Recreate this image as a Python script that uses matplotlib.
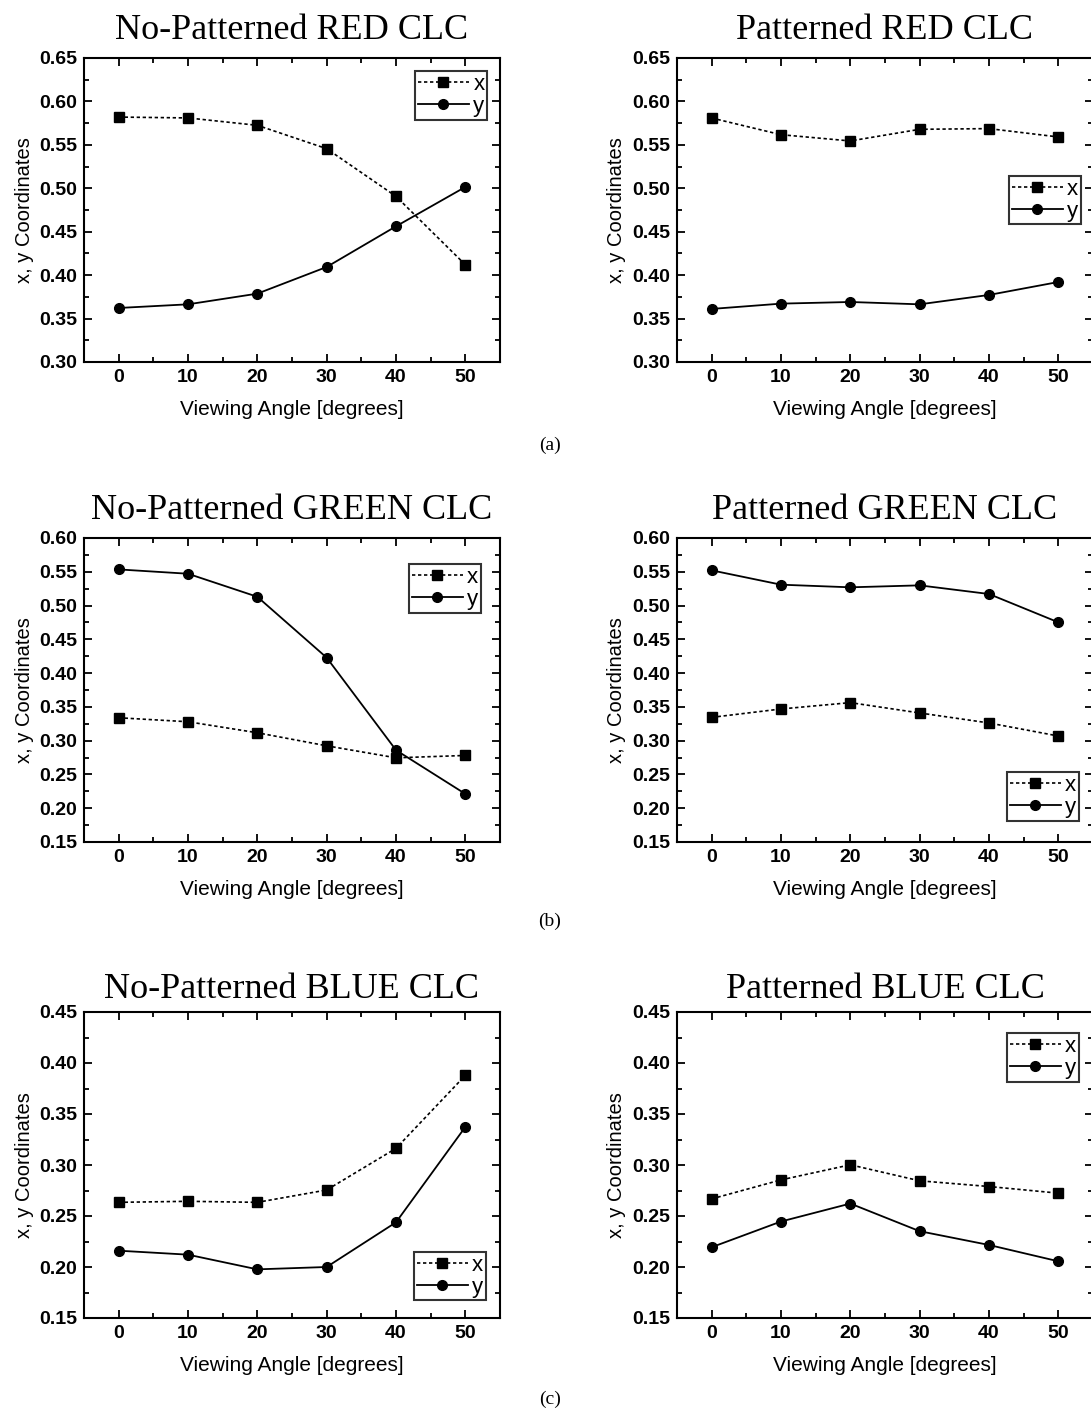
import matplotlib
matplotlib.use("Agg")
import matplotlib.pyplot as plt
from matplotlib.ticker import MultipleLocator, FormatStrFormatter

angles = [0, 10, 20, 30, 40, 50]

red_np_x = [0.582, 0.581, 0.5725, 0.5456, 0.4907, 0.412]
red_np_y = [0.3622, 0.3664, 0.3787, 0.4094, 0.4562, 0.5015]
red_p_x = [0.5809, 0.5617, 0.5545, 0.5679, 0.5687, 0.5591]
red_p_y = [0.3611, 0.3672, 0.3691, 0.3664, 0.3772, 0.3921]

green_np_x = [0.3339, 0.328, 0.3117, 0.2924, 0.2746, 0.2781]
green_np_y = [0.5535, 0.5471, 0.513, 0.4229, 0.286, 0.2212]
green_p_x = [0.3345, 0.3469, 0.3563, 0.341, 0.3262, 0.3069]
green_p_y = [0.5521, 0.5309, 0.527, 0.5299, 0.5171, 0.4752]

blue_np_x = [0.2634, 0.2644, 0.2634, 0.2755, 0.3163, 0.3879]
blue_np_y = [0.216, 0.2121, 0.1977, 0.2, 0.2438, 0.3373]
blue_p_x = [0.2668, 0.2854, 0.3002, 0.2845, 0.2789, 0.2724]
blue_p_y = [0.2194, 0.2446, 0.2622, 0.2351, 0.2216, 0.2056]

titles = ["No-Patterned RED CLC", "Patterned RED CLC",
          "No-Patterned GREEN CLC", "Patterned GREEN CLC",
          "No-Patterned BLUE CLC", "Patterned BLUE CLC"]
ylims = [(0.30, 0.65), (0.30, 0.65), (0.15, 0.60), (0.15, 0.60), (0.15, 0.45), (0.15, 0.45)]
captions = ["(a)", "(b)", "(c)"]

series = [(red_np_x, red_np_y), (red_p_x, red_p_y),
          (green_np_x, green_np_y), (green_p_x, green_p_y),
          (blue_np_x, blue_np_y), (blue_p_x, blue_p_y)]

W, H = 1091, 1411
fig = plt.figure(figsize=(W / 100, H / 100), dpi=100)

sans = ["Liberation Sans", "DejaVu Sans"]
serif = ["Liberation Serif", "DejaVu Serif"]

# axes geometry in pixels
col_left = [84, 677]
row_top = [58, 538, 1012]
row_h = [304, 304, 306]
title_pad = [14, 14, 10]
ax_w = 416
legend_anchor = [(0.796, 0.957), (0.798, 0.612),
                 (0.781, 0.914), (0.793, 0.230),
                 (0.793, 0.216), (0.793, 0.931)]

for i in range(6):
    r, c = divmod(i, 2)
    l = col_left[c]
    t = row_top[r]
    h = row_h[r]
    ax = fig.add_axes([l / W, 1 - (t + h) / H, ax_w / W, h / H])
    xs, ys = series[i]
    ax.plot(angles, xs, linestyle=(0, (2, 1.6)), color="black", lw=1.2,
            marker="s", ms=6.5, label="x")
    ax.plot(angles, ys, linestyle="-", color="black", lw=1.3,
            marker="o", ms=7, label="y")
    ax.set_xlim(-5, 55)
    ax.set_ylim(*ylims[i])
    ax.xaxis.set_major_locator(MultipleLocator(10))
    ax.xaxis.set_minor_locator(MultipleLocator(5))
    ax.yaxis.set_major_locator(MultipleLocator(0.05))
    ax.yaxis.set_minor_locator(MultipleLocator(0.025))
    ax.yaxis.set_major_formatter(FormatStrFormatter("%.2f"))
    ax.tick_params(which="both", direction="in", top=True, right=True, width=1.3)
    ax.tick_params(which="major", length=6, labelsize=14, pad=5)
    ax.tick_params(which="minor", length=3.5)
    for lab in ax.get_xticklabels() + ax.get_yticklabels():
        lab.set_family(sans)
        lab.set_fontweight("bold")
    for sp in ax.spines.values():
        sp.set_linewidth(1.5)
    ax.set_xlabel("Viewing Angle [degrees]", fontsize=15, family=sans, labelpad=10)
    ax.set_ylabel("x, y Coordinates", fontsize=14.5, family=sans, labelpad=4)
    ax.set_title(titles[i], fontsize=26, family=serif, pad=title_pad[r])
    leg = ax.legend(loc="upper left", bbox_to_anchor=legend_anchor[i],
                    borderaxespad=0, fancybox=False, frameon=True,
                    edgecolor="black", prop={"family": sans, "size": 16},
                    handlelength=2.3, handletextpad=0.2, borderpad=0.12,
                    labelspacing=0.05)
    leg.get_frame().set_linewidth(1.5)

cap_y = [445, 921, 1399]
for k in range(3):
    fig.text(550 / W, 1 - cap_y[k] / H, captions[k], ha="center", va="center",
             fontsize=14, family=serif)

fig.savefig("out.png", dpi=100)
